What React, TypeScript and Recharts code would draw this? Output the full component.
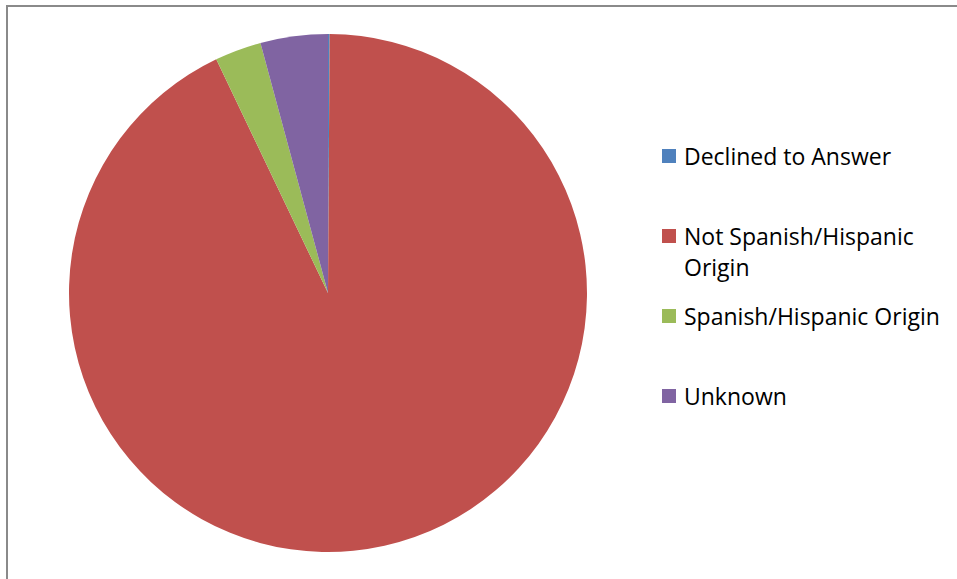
import React from 'react';
import { PieChart, Pie, Cell, Legend } from 'recharts';

// Hispanic origin breakdown, percent of total
const categories = [
  'Declined to Answer',
  'Not Spanish/Hispanic Origin',
  'Spanish/Hispanic Origin',
  'Unknown',
];
const shares = [0.1, 92.8, 2.9, 4.2];
const sliceColors = ['#4F81BD', '#C0504D', '#9BBB59', '#8064A2'];

const chartData = categories.map((name, i) => ({ name, value: shares[i] }));

const FONT = '"Open Sans", "Liberation Sans", sans-serif';

const SideLegend = () => (
  <div style={{ fontFamily: FONT, fontSize: 23, color: '#000' }}>
    {categories.map((name, i) => (
      <div key={name} style={{ display: 'flex', alignItems: 'flex-start', height: 80 }}>
        <span
          style={{
            width: 14,
            height: 14,
            marginTop: 8,
            marginRight: 8,
            background: sliceColors[i],
            flexShrink: 0,
          }}
        />
        <span style={{ lineHeight: '31px', width: 268 }}>{name}</span>
      </div>
    ))}
  </div>
);

export default function App() {
  return (
    <div
      style={{
        position: 'fixed',
        left: 0,
        top: 0,
        width: 957,
        height: 579,
        background: '#fff',
        overflow: 'hidden',
      }}
    >
      <div
        style={{
          position: 'absolute',
          left: 6,
          top: 5,
          width: 960,
          height: 600,
          borderLeft: '2px solid #8a8a8a',
          borderTop: '2px solid #8a8a8a',
        }}
      />
      <PieChart
        width={957}
        height={579}
        margin={{ top: 0, right: 0, bottom: 0, left: 0 }}
        style={{ position: 'absolute', left: 0, top: 0 }}
      >
        <Pie
          data={chartData}
          dataKey="value"
          nameKey="name"
          cx={328}
          cy={293}
          outerRadius={259}
          startAngle={90}
          endAngle={-270}
          stroke="none"
          isAnimationActive={false}
        >
          {chartData.map((entry, i) => (
            <Cell key={`slice-${i}`} fill={sliceColors[i]} />
          ))}
        </Pie>
        <Legend
          content={<SideLegend />}
          layout="vertical"
          wrapperStyle={{ position: 'absolute', left: 662, top: 141, width: 295 }}
        />
      </PieChart>
    </div>
  );
}
